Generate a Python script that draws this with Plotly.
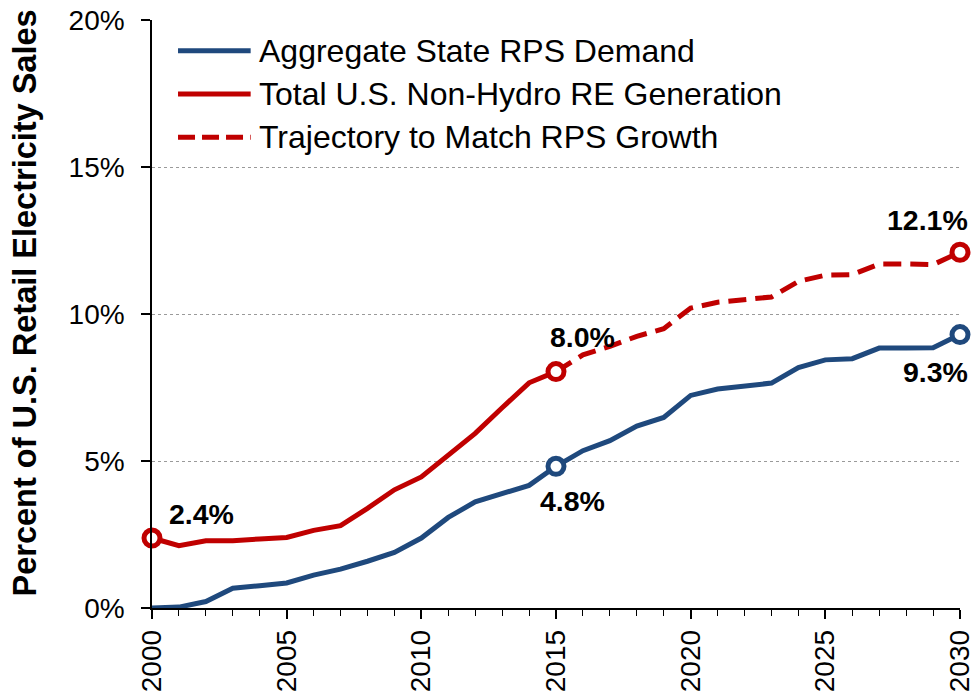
import plotly.graph_objects as go

# ---- data ----
years = list(range(2000, 2031))
rps_demand = [0.00, 0.03, 0.22, 0.67, 0.76, 0.85, 1.12, 1.32, 1.59, 1.89, 2.38,
              3.08, 3.61, 3.88, 4.17, 4.82, 5.35, 5.69, 6.19, 6.48, 7.23,
              7.45, 7.57, 7.65, 8.18, 8.44, 8.48, 8.84, 8.84, 8.85, 9.30]
re_years = list(range(2000, 2016))
re_generation = [2.38, 2.12, 2.29, 2.29, 2.35, 2.40, 2.64, 2.80, 3.39, 4.02, 4.46,
                 5.20, 5.94, 6.81, 7.66, 8.04]
traj_years = list(range(2015, 2031))
trajectory = [8.04, 8.61, 8.90, 9.24, 9.50, 10.20, 10.40, 10.49, 10.58, 11.11,
              11.32, 11.34, 11.70, 11.70, 11.68, 12.10]
y_ticks = [0, 5, 10, 15, 20]
y_tick_labels = ["0%", "5%", "10%", "15%", "20%"]
x_ticks = [2000, 2005, 2010, 2015, 2020, 2025, 2030]
series_names = ["Aggregate State RPS Demand",
                "Total U.S. Non-Hydro RE Generation",
                "Trajectory to Match RPS Growth"]

BLUE = "#1F497D"
RED = "#C00000"
FONT = "Liberation Sans, Arial, sans-serif"

fig = go.Figure()

fig.add_trace(go.Scatter(x=years, y=rps_demand, mode="lines",
                         line=dict(color=BLUE, width=5), name=series_names[0],
                         showlegend=False, cliponaxis=False))
fig.add_trace(go.Scatter(x=re_years, y=re_generation, mode="lines",
                         line=dict(color=RED, width=5), name=series_names[1],
                         showlegend=False, cliponaxis=False))
fig.add_trace(go.Scatter(x=traj_years, y=trajectory, mode="lines",
                         line=dict(color=RED, width=5, dash="18px,9px"),
                         name=series_names[2], showlegend=False, cliponaxis=False))

# endpoint markers
fig.add_trace(go.Scatter(x=[re_years[0], re_years[-1], traj_years[-1]],
                         y=[re_generation[0], re_generation[-1], trajectory[-1]],
                         mode="markers", showlegend=False, cliponaxis=False,
                         marker=dict(size=16, color="white", line=dict(width=5, color=RED))))
fig.add_trace(go.Scatter(x=[re_years[-1], years[-1]],
                         y=[rps_demand[re_years[-1] - years[0]], rps_demand[-1]],
                         mode="markers", showlegend=False, cliponaxis=False,
                         marker=dict(size=16, color="white", line=dict(width=5, color=BLUE))))

# value labels
lab_font = dict(family=FONT, size=28.5, color="black")
labels = [
    (re_years[0], re_generation[0], "left", 15, 24),
    (re_years[-1], re_generation[-1], "center", 26, 35),
    (re_years[-1], rps_demand[re_years[-1] - years[0]], "left", -18, -35),
    (traj_years[-1], trajectory[-1], "right", 10, 32),
    (years[-1], rps_demand[-1], "right", 10, -37),
]
for x, y, xa, xs, ys in labels:
    fig.add_annotation(x=x, y=y, text=f"<b>{y:.1f}%</b>", showarrow=False,
                       xanchor=xa, yanchor="middle", xshift=xs, yshift=ys,
                       font=lab_font)

# manual legend
leg_rows = [0.9478, 0.8741, 0.8005]
leg_styles = [(BLUE, "solid"), (RED, "solid"), (RED, "17px,7px")]
for (col, dash), yy, name in zip(leg_styles, leg_rows, series_names):
    fig.add_shape(type="line", xref="paper", yref="paper",
                  x0=0.0322, x1=0.1221, y0=yy, y1=yy,
                  line=dict(color=col, width=5, dash=dash))
    fig.add_annotation(xref="paper", yref="paper", x=0.1296, y=yy, text=name,
                       showarrow=False, xanchor="left", yanchor="middle",
                       font=dict(family=FONT, size=32, color="black"))

# y-axis title
fig.add_annotation(xref="paper", yref="paper", x=-0.156, y=0.5196,
                   text="<b>Percent of U.S. Retail Electricity Sales</b>",
                   textangle=-90, showarrow=False, xanchor="center", yanchor="middle",
                   font=dict(family=FONT, size=32.5, color="black"))

fig.update_layout(
    width=972, height=694,
    margin=dict(l=152, r=12, t=20, b=86, autoexpand=False),
    paper_bgcolor="white", plot_bgcolor="white",
    font=dict(family=FONT, color="black"),
    showlegend=False,
)
fig.update_xaxes(
    range=[2000, 2030], tickvals=x_ticks, tickangle=-90, automargin=False,
    ticks="outside", ticklen=9, tickwidth=1.5, tickcolor="black",
    minor=dict(dtick=1, ticks="outside", ticklen=6, tickwidth=1.2, tickcolor="black", showgrid=False),
    showline=True, linecolor="black", linewidth=1.5,
    showgrid=False, zeroline=False,
    tickfont=dict(family=FONT, size=28, color="black"),
    ticklabelstandoff=0, ticklabeloverflow="allow",
)
fig.update_yaxes(
    range=[0, 20], tickvals=y_ticks, ticktext=y_tick_labels, automargin=False,
    ticks="outside", ticklen=9, tickwidth=1.5, tickcolor="black",
    showline=True, linecolor="black", linewidth=1.5,
    showgrid=True, gridcolor="#9A9A9A", gridwidth=1, griddash="dot",
    zeroline=False,
    tickfont=dict(family=FONT, size=28, color="black"),
    ticklabelstandoff=11, ticklabeloverflow="allow",
)

fig.write_html("out.html", config={"displayModeBar": False},
               post_script="document.body.style.margin='0';document.body.style.overflow='hidden';")
